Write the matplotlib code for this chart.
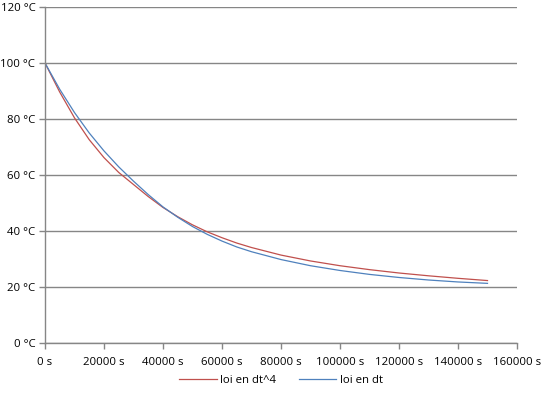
import matplotlib
matplotlib.use('Agg')
import matplotlib.pyplot as plt
from matplotlib.ticker import FuncFormatter

# Time (s) and temperatures (degC)
time_s = [0, 5000, 10000, 15000, 20000, 25000, 30000, 35000, 40000, 45000, 50000,
          55000, 60000, 65000, 70000, 80000, 90000, 100000, 110000, 120000,
          130000, 140000, 150000]
temp_dt4 = [100, 89.6, 80.4, 72.6, 66.2, 60.9, 56.6, 52.3, 48.4, 45.1, 42.2,
            39.7, 37.6, 35.7, 34.1, 31.4, 29.3, 27.6, 26.2, 25.0,
            24.0, 23.1, 22.3]
temp_dt = [100, 90.6, 82.3, 75.0, 68.6, 62.9, 57.8, 53.0, 48.6, 44.9, 41.6,
           38.8, 36.4, 34.3, 32.6, 29.8, 27.6, 25.9, 24.5, 23.4,
           22.5, 21.8, 21.3]

series_labels = ['loi en dt^4', 'loi en dt']
series_colors = ['#C0504D', '#4F81BD']

plt.rcParams['font.family'] = ['Open Sans', 'DejaVu Sans']

fig = plt.figure(figsize=(5.49, 3.98), dpi=100)
ax = fig.add_axes([45 / 549, 55 / 398, 472 / 549, 336 / 398])

# Grid and axes in Excel grey
grey = '#868686'
ax.set_xlim(0, 160000)
ax.set_ylim(0, 120)
ax.set_xticks(range(0, 160001, 20000))
ax.set_yticks(range(0, 121, 20))
ax.yaxis.grid(True, color=grey, lw=1.0)
ax.set_axisbelow(True)
for side in ['top', 'right']:
    ax.spines[side].set_visible(False)
for side in ['left', 'bottom']:
    ax.spines[side].set_color(grey)
    ax.spines[side].set_linewidth(1.0)
ax.tick_params(axis='both', colors=grey, length=4, width=1.0,
               labelcolor='black', labelsize=8.2)
ax.tick_params(axis='x', pad=6)
ax.tick_params(axis='y', pad=3)
ax.xaxis.set_major_formatter(FuncFormatter(lambda v, p: '%d s' % v))
ax.yaxis.set_major_formatter(FuncFormatter(lambda v, p: '%d °C' % v))

# Curves
ax.plot(time_s, temp_dt4, color=series_colors[0], lw=0.9, label=series_labels[0])
ax.plot(time_s, temp_dt, color=series_colors[1], lw=0.9, label=series_labels[1])

ax.legend(loc='center', bbox_to_anchor=(0.5, -0.113), ncol=2, frameon=False,
          fontsize=8.2, handlelength=3.3, columnspacing=2.0, handletextpad=0.3)

fig.savefig('out.png', dpi=100)
